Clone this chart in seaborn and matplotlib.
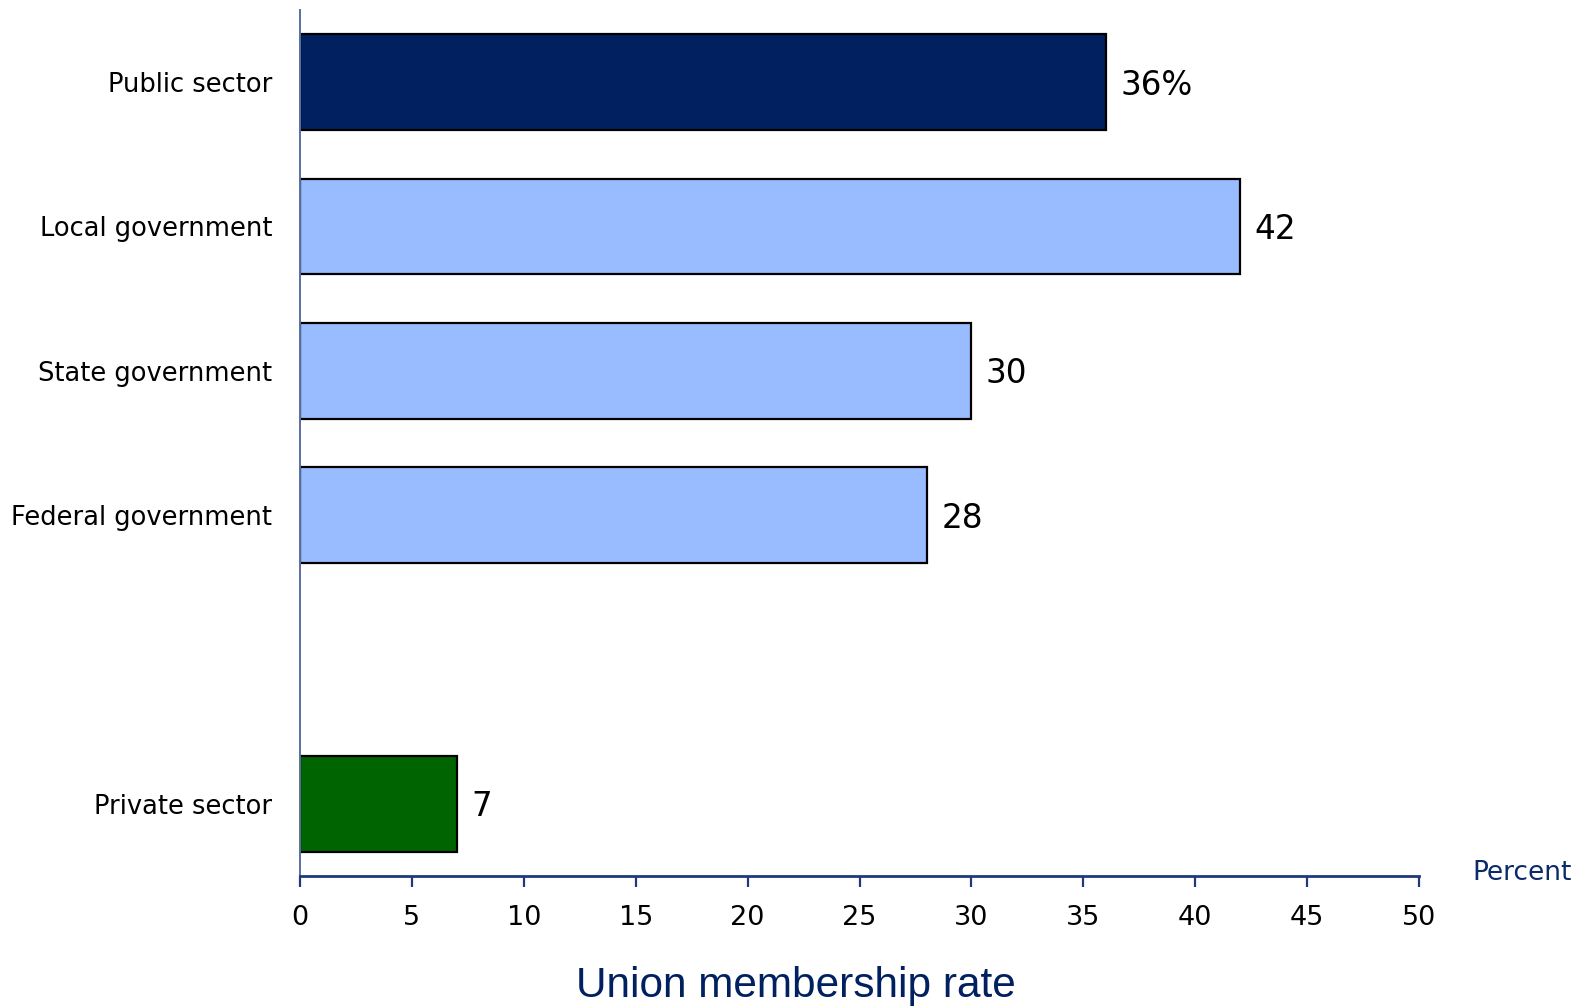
import matplotlib
matplotlib.use("Agg")
import matplotlib.pyplot as plt
import seaborn as sns
import pandas as pd

# Union membership rates by sector
sectors = ["Public sector", "Local government", "State government",
           "Federal government", "Private sector"]
rates = [36, 42, 30, 28, 7]
value_labels = ["36%", "42", "30", "28", "7"]
bar_colors = ["#002060", "#99bbff", "#99bbff", "#99bbff", "#006400"]
x_ticks = [0, 5, 10, 15, 20, 25, 30, 35, 40, 45, 50]

sns.set_theme(style="white")
plt.rcParams["font.family"] = ["DejaVu Sans"]

navy = "#0a2a6b"

df = pd.DataFrame({"sector": sectors, "rate": rates})
# blank slot separates the public breakdown from the private sector
order = sectors[:4] + [" "] + sectors[4:]

fig = plt.figure(figsize=(15.86, 10.07), dpi=100)
ax = fig.add_axes([300 / 1586, 1 - 876 / 1007, 1119 / 1586, 866 / 1007])

sns.barplot(data=df, x="rate", y="sector", hue="sector", order=order,
            palette=dict(zip(sectors, bar_colors)), width=0.665,
            saturation=1, edgecolor="black", linewidth=1.6, legend=False,
            ax=ax)

ax.set_xlim(0, 50)
ax.set_ylim(5.5, -0.5)
ax.set_xticks(x_ticks)
ax.set_xticklabels([str(t) for t in x_ticks], fontsize=19.5, color="black")
ax.set_xlabel("")
ax.set_ylabel("")

ax.tick_params(axis="x", direction="out", length=8, width=1.6,
               color="#1f3a7a", pad=13, bottom=True)
ax.tick_params(axis="y", length=0, pad=20, labelsize=18.5, labelcolor="black")

# hide the label of the spacer slot
for lbl in ax.get_yticklabels():
    if lbl.get_text().strip() == "":
        lbl.set_visible(False)

for side in ["top", "right"]:
    ax.spines[side].set_visible(False)
ax.spines["bottom"].set_color("#1f3a7a")
ax.spines["bottom"].set_linewidth(2.0)
ax.spines["left"].set_color("#5a6fa0")
ax.spines["left"].set_linewidth(1.4)

# value labels at the end of each bar
for s, v, t in zip(sectors, rates, value_labels):
    ax.text(v + 0.65, order.index(s) + 0.02, t, va="center", ha="left",
            fontsize=23.5, color="black")

fig.text(1472 / 1586, 1 - 873 / 1007, "Percent", fontsize=19, color=navy,
         ha="left", va="center")
fig.text(796 / 1586, 1 - 986 / 1007, "Union membership rate",
         fontsize=30.5, color="#002060", ha="center", va="center",
         family=["Liberation Sans", "DejaVu Sans"])

fig.savefig("out.png", dpi=100)
